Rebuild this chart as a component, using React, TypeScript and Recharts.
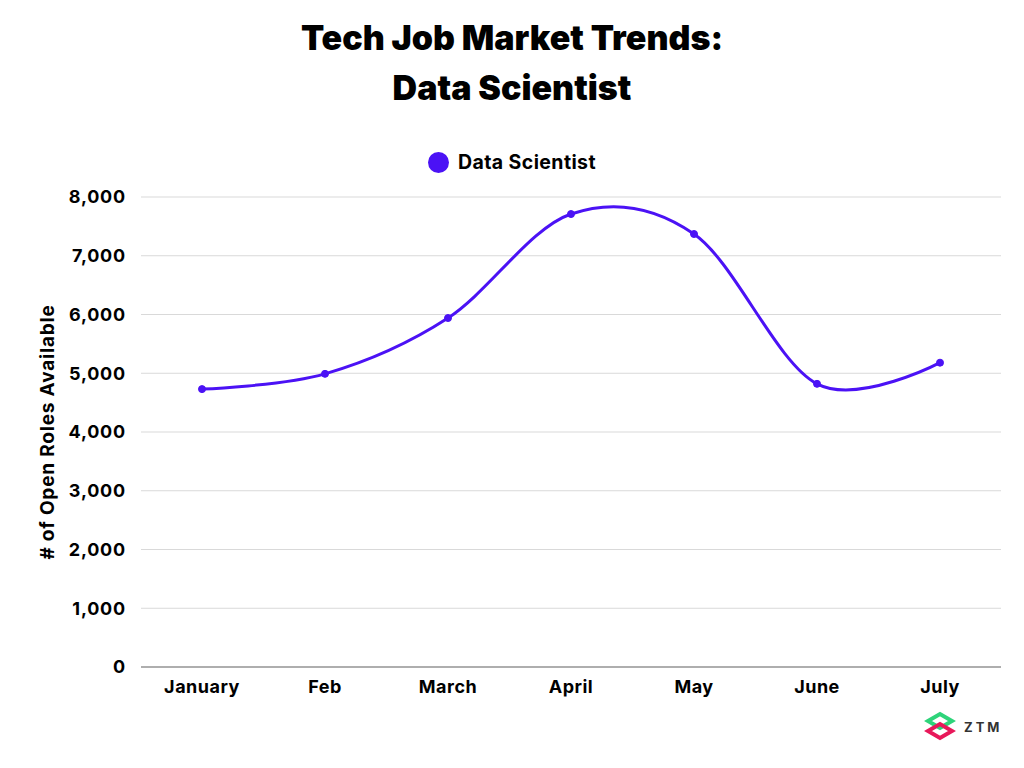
import { CartesianGrid, Line, LineChart, XAxis, YAxis } from 'recharts';

const months = ['January', 'Feb', 'March', 'April', 'May', 'June', 'July'];
const openRoles = [4730, 4990, 5940, 7710, 7370, 4820, 5180];
const yTicks = [0, 1000, 2000, 3000, 4000, 5000, 6000, 7000, 8000];

const data = months.map((month, i) => ({ month, roles: openRoles[i] }));

const PURPLE = '#4b12f5';
const FONT = 'Inter, "Noto Sans", sans-serif';

// cardinal spline (tension 0), same maths as d3's curveCardinal
function cardinalCurve(context: any) {
  const k = 1 / 6;
  let x0 = NaN, y0 = NaN, x1 = NaN, y1 = NaN, x2 = NaN, y2 = NaN;
  let pt = 0;
  let line = NaN;
  const seg = (x: number, y: number) => {
    context.bezierCurveTo(
      x1 + k * (x2 - x0),
      y1 + k * (y2 - y0),
      x2 + k * (x1 - x),
      y2 + k * (y1 - y),
      x2,
      y2,
    );
  };
  return {
    areaStart() {
      line = 0;
    },
    areaEnd() {
      line = NaN;
    },
    lineStart() {
      x0 = x1 = x2 = y0 = y1 = y2 = NaN;
      pt = 0;
    },
    lineEnd() {
      if (pt === 2) context.lineTo(x2, y2);
      else if (pt === 3) seg(x1, y1);
      if (line || (line !== 0 && pt === 1)) context.closePath();
      line = 1 - line;
    },
    point(x: number, y: number) {
      x = +x;
      y = +y;
      if (pt === 0) {
        pt = 1;
        if (line) context.lineTo(x, y);
        else context.moveTo(x, y);
      } else if (pt === 1) {
        pt = 2;
        x1 = x;
        y1 = y;
      } else {
        pt = 3;
        seg(x, y);
      }
      x0 = x1; x1 = x2; x2 = x;
      y0 = y1; y1 = y2; y2 = y;
    },
  };
}

function YLabel({ viewBox }: { viewBox?: { x: number; y: number; width: number; height: number } }) {
  if (!viewBox) return null;
  const x = viewBox.x - 14;
  const y = viewBox.y + viewBox.height / 2;
  return (
    <text
      x={x}
      y={y}
      transform={`rotate(-90 ${x} ${y})`}
      textAnchor="middle"
      dominantBaseline="central"
      fontFamily={FONT}
      fontWeight={700}
      fontSize={19}
      letterSpacing={0.8}
      fill="#000"
    >
      # of Open Roles Available
    </text>
  );
}

function ZtmLogo() {
  return (
    <svg width={90} height={40} style={{ position: 'absolute', left: 924, top: 710 }}>
      <path d="M4 11 L16 4 L28 11 L16 18 Z" fill="none" stroke="#2ed47a" strokeWidth={4} />
      <path d="M4 21 L16 14 L28 21 L16 28 Z" fill="none" stroke="#e8185a" strokeWidth={4} />
      <text x={40} y={22} fontFamily={FONT} fontWeight={700} fontSize={13} fill="#333" letterSpacing={3}>
        ZTM
      </text>
    </svg>
  );
}

export default function App() {
  return (
    <div
      style={{
        position: 'absolute',
        left: 0,
        top: 0,
        width: 1024,
        height: 768,
        background: '#fff',
        overflow: 'hidden',
      }}
    >
      <div
        style={{
          position: 'absolute',
          top: 13,
          left: 0,
          width: 1024,
          textAlign: 'center',
          fontFamily: FONT,
          fontWeight: 900,
          fontSize: 34,
          lineHeight: '50px',
          color: '#000',
          letterSpacing: 0,
        }}
      >
        Tech Job Market Trends:
        <br />
        Data Scientist
      </div>
      <div
        style={{
          position: 'absolute',
          top: 150,
          left: 0,
          width: 1024,
          display: 'flex',
          justifyContent: 'center',
          alignItems: 'center',
          fontFamily: FONT,
          fontWeight: 700,
          fontSize: 19.5,
          letterSpacing: 0.4,
          color: '#000',
        }}
      >
        <span
          style={{
            width: 21,
            height: 21,
            borderRadius: '50%',
            background: PURPLE,
            marginRight: 9,
            display: 'inline-block',
          }}
        />
        Data Scientist
      </div>
      <LineChart
        width={1024}
        height={768}
        data={data}
        margin={{ top: 197, right: 23, bottom: 71, left: 61 }}
        style={{ position: 'absolute', left: 0, top: 0 }}
      >
        <CartesianGrid vertical={false} stroke="#d9d9d9" strokeWidth={1} />
        <XAxis
          dataKey="month"
          padding={{ left: 61, right: 61 }}
          tickLine={false}
          axisLine={{ stroke: '#9a9a9a', strokeWidth: 1.5 }}
          tickMargin={7}
          height={30}
          interval={0}
          tick={{ fontFamily: FONT, fontWeight: 700, fontSize: 18, fill: '#000', letterSpacing: 0.5 }}
        />
        <YAxis
          width={80}
          domain={[0, 8000]}
          ticks={yTicks}
          tickLine={false}
          axisLine={false}
          tickMargin={9}
          tickFormatter={(v: number) => v.toLocaleString('en-US')}
          tick={{ fontFamily: FONT, fontWeight: 700, fontSize: 18, fill: '#000', letterSpacing: 0.8 }}
          label={<YLabel />}
        />
        <Line
          type={cardinalCurve as any}
          dataKey="roles"
          name="Data Scientist"
          stroke={PURPLE}
          strokeWidth={3}
          dot={{ r: 3.5, fill: PURPLE, stroke: PURPLE, strokeWidth: 1 }}
          activeDot={false}
          isAnimationActive={false}
        />
      </LineChart>
      <ZtmLogo />
    </div>
  );
}
